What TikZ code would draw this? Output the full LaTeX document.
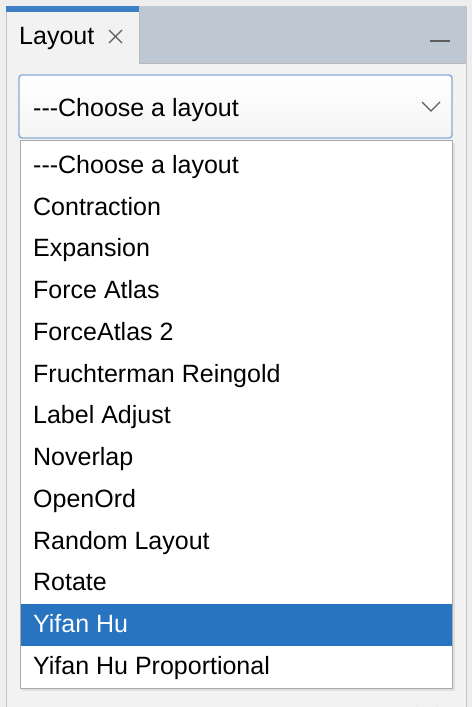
\documentclass[tikz,border=0pt]{standalone}
\usepackage{fontspec}
\setmainfont{Liberation Sans}
\usepackage{tikz}

\definecolor{paneBg}{HTML}{F2F2F2}
\definecolor{outerBg}{HTML}{EEEEEE}
\definecolor{tabHead}{HTML}{BEC8D2}
\definecolor{tabBlue}{HTML}{3D80C6}
\definecolor{comboEdge}{HTML}{86ABD9}
\definecolor{listEdge}{HTML}{A9A9A9}
\definecolor{pickBlue}{HTML}{2874C0}
\definecolor{iconGray}{HTML}{5E5E5E}

\newcommand\tridash{\mbox{-}\mbox{-}\mbox{-}}

\tikzset{
  item/.style={anchor=base west,inner sep=0pt,font=\fontsize{25}{30}\selectfont},
  pick/.style={item,text=white}
}

\begin{document}
\begin{tikzpicture}[x=1pt,y=-1pt]
    \useasboundingbox (0,0) rectangle (472,707);
    \fill[outerBg] (0,0) rectangle (472,707);

    % panel and tab strip
    \fill[paneBg] (6,6) rectangle (466,707);
    \draw[gray!45] (6,707) -- (6,6) -- (466,6) -- (466,707);
    \fill[tabHead] (139,6) rectangle (466,63);
    \draw[gray!55] (139,63) -- (466,63);
    \draw[gray!55] (139,11) -- (139,63);
    \fill[tabBlue] (6,6) rectangle (139,11.5);
    \node[item] (tab) at (19,44) {Layout};
    \draw[iconGray,line width=1.3pt] (109,30) -- (122,43) (109,43) -- (122,30);
    \draw[iconGray,line width=1.6pt] (430,41) -- (450,41);

    % combo box
    \shade[top color=white,bottom color=gray!8,rounded corners=3pt]
      (19,75) rectangle (452,138);
    \draw[comboEdge,line width=1.4pt,rounded corners=3pt] (19,75) rectangle (452,138);
    \node[item] (combo) at (33,116.5) {\tridash Choose a layout};
    \draw[iconGray,line width=1.1pt] (422,102) -- (431,111) -- (440,102);

    % drop down list
    \fill[gray!25] (22,143) rectangle (455,691);
    \fill[white] (20,140) rectangle (452,688);
    \draw[listEdge] (20,140) rectangle (452,688);
    \fill[pickBlue] (20.5,604) rectangle (451.5,646);

    \foreach \name [count=\i from 0] in {\tridash Choose a layout,Contraction,Expansion,Force Atlas,
        ForceAtlas 2,Fruchterman Reingold,Label Adjust,Noverlap,OpenOrd,Random Layout,Rotate}
      \node[item] (item\i) at (33,173.3+41.75*\i) {\name};
    \node[pick] (item11) at (33,632.5) {Yifan Hu};
    \node[item] (item12) at (33,674.3) {Yifan Hu Proportional};

    % edge of a knob below
    \draw[gray!60,line width=1.2pt] (417,707) arc (160:20:10.5);
\end{tikzpicture}
\end{document}
